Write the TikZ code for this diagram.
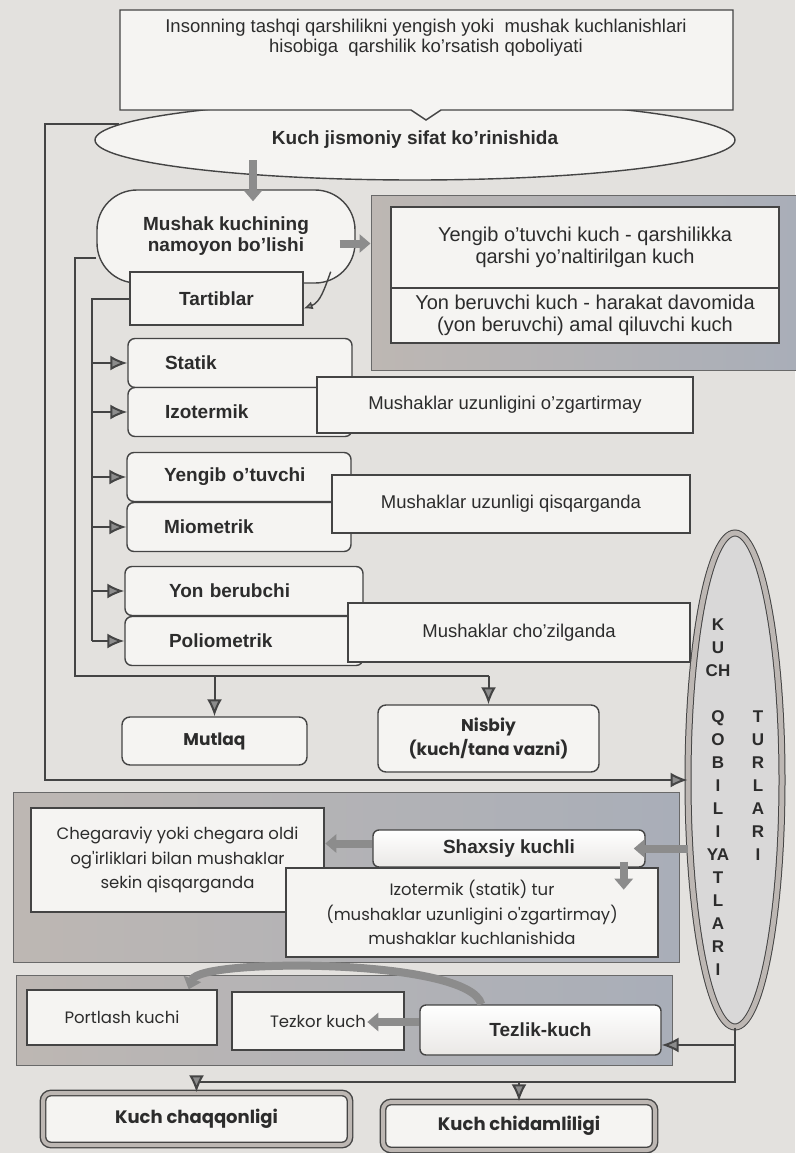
\documentclass[tikz,border=0pt]{standalone}
\usepackage{fontspec}
\setmainfont{Liberation Sans}
\newfontfamily\gothic{Poppins}
\usepackage{tikz}
\usetikzlibrary{arrows.meta}
\usetikzlibrary{shapes.geometric}
\definecolor{paper}{HTML}{E3E1DE}
\definecolor{boxfill}{HTML}{F5F4F2}
\definecolor{linecol}{HTML}{444444}
\definecolor{inkcol}{HTML}{2C2C2C}
\definecolor{arrowgray}{HTML}{8C8C8C}
\definecolor{bandA}{HTML}{BDB7B3}
\definecolor{bandB}{HTML}{A9AEB8}
\definecolor{turfill}{HTML}{D9D8D8}
\newcommand\kuchbold{\bfseries\fontsize{19}{21}\selectfont}
\newcommand\kuchplain{\fontsize{18.5}{22}\selectfont}
\newcommand\gothicmid{\gothic\fontsize{16.5}{24.5}\selectfont}
\newcommand\gothicbold{\gothic\bfseries\fontsize{17}{24}\selectfont}
\tikzset{>={Latex[length=12pt,width=10pt]}}
\tikzset{
  box/.style={draw=linecol, line width=1.4pt, fill=boxfill, text=inkcol, inner sep=0pt, align=center},
  modebox/.style={box, rounded corners=7pt, minimum width=224pt, minimum height=49pt, text width=150pt, inner xsep=37pt, align=left, font=\kuchbold},
  frame/.style={draw=linecol!80, line width=1pt, left color=bandA, right color=bandB, inner sep=0pt},
  endbox/.style={box, rounded corners=8pt, double=bandA, double distance=4pt, font=\gothic\bfseries\fontsize{18}{24}\selectfont},
  letters/.style={font=\bfseries\fontsize{17}{23}\selectfont, align=center, text=inkcol, inner sep=0pt},
  link/.style={draw=linecol, line width=2pt},
  feed/.style={link, -{Latex[length=17pt,width=15pt,fill=arrowgray]}},
  block/.style={draw=arrowgray, line width=8pt, -{Triangle[length=11pt,width=18pt]}},
}

\begin{document}
\begin{tikzpicture}[x=1pt,y=-1pt]
\useasboundingbox (0,0) rectangle (795,1153);
\fill[paper] (0,0) rectangle (795,1153);

% kuch jismoniy sifat
\node[box, ellipse, minimum width=640pt, minimum height=80pt, font=\kuchbold] (kuch) at (415,140) {Kuch jismoniy sifat ko'rinishida};
\draw[box] (120,10) -- (733,10) -- (733,110) -- (441,110) -- (426,120) -- (411,110) -- (120,110) -- cycle;
\node[font=\fontsize{18.5}{20}\selectfont, align=center, text=inkcol] (ask) at (426,38) {Insonning tashqi qarshilikni yengish yoki \ mushak kuchlanishlari\\hisobiga \ qarshilik ko'rsatish qoboliyati};

% mushak kuchi
\node[box, rounded corners=40pt, minimum width=258pt, minimum height=93pt, font=\kuchbold] (mushak) at (226,236.5) {Mushak kuchining\\namoyon bo'lishi};
\node[box, minimum width=173pt, minimum height=53pt, font=\kuchbold] (tartib) at (216.5,298.5) {Tartiblar};
\draw[link, line width=1.4pt, -{Latex[length=9pt,width=8pt,fill=arrowgray]}] ([xshift=-25pt,yshift=12pt]mushak.south east) to[out=-110,in=20] ([yshift=-10pt]tartib.east);

\node[frame, minimum width=426pt, minimum height=175pt] (kuchturi) at (584,282.5) {};
\node[box, minimum width=388pt, minimum height=81pt, font=\fontsize{20}{22}\selectfont] (yengkuch) at (585,247.5) {Yengib o'tuvchi kuch - qarshilikka\\qarshi yo'naltirilgan kuch};
\node[box, minimum width=388pt, minimum height=55pt, font=\fontsize{20}{22}\selectfont] (yonkuch) at (585,315.5) {Yon beruvchi kuch - harakat davomida\\(yon beruvchi) amal qiluvchi kuch};

% tartiblar
\node[modebox] (statik) at (240,363) {Statik};
\node[modebox] (izoterm) at (240,412) {Izotermik};
\node[modebox] (yengib) at (239,477) {Yengib o'tuvchi};
\node[modebox] (miomet) at (239,527) {Miometrik};
\node[modebox, minimum width=238pt] (yonber) at (244,591) {Yon berubchi};
\node[modebox, minimum width=238pt] (poliom) at (244,641) {Poliometrik};

\node[box, minimum width=376pt, minimum height=56pt, font=\kuchplain] (mush1) at (505,405) {Mushaklar uzunligini o'zgartirmay};
\node[box, minimum width=358pt, minimum height=58pt, font=\kuchplain] (mush2) at (511,504) {Mushaklar uzunligi qisqarganda};
\node[box, minimum width=342pt, minimum height=59pt, font=\kuchplain] (mush3) at (519,632.5) {Mushaklar cho'zilganda};

\node[box, rounded corners=8pt, minimum width=185pt, minimum height=48pt, font=\gothicbold] (mutlaq) at (214.5,741) {Mutlaq};
\node[box, rounded corners=8pt, minimum width=221pt, minimum height=67pt, font=\gothicbold] (nisbiy) at (488.5,738.5) {Nisbiy\\(kuch/tana vazni)};

% kuch qobiliyatlari turlari
\node[ellipse, draw=linecol, line width=1pt, double=bandA, double distance=5pt, fill=turfill, minimum width=94pt, minimum height=494pt, inner sep=0pt] (turlar) at (735,780) {};
\node[letters] (qobil) at (718,797) {K\\U\\CH\\[23pt]Q\\O\\B\\I\\L\\I\\YA\\T\\L\\A\\R\\I};
\node[letters] (turi) at (758,786) {T\\U\\R\\L\\A\\R\\I};

% chiziqlar
\coordinate (outerx) at (45,0);
\coordinate (midbus) at (75,676);
\coordinate (innx) at (92,0);
\coordinate (kdrop) at (253,160);
\draw[feed] (kuch.177) -| (turlar.west -| outerx) -- (turlar.west);
\draw[link] ([yshift=-21pt]mushak.west) -| (midbus) -- (midbus -| nisbiy.north);
\draw[feed] (midbus -| mutlaq.north) -- (mutlaq.north);
\draw[feed] (midbus -| nisbiy.north) -- (nisbiy.north);
\draw[link] (tartib.west) -| (innx |- poliom.west);
\foreach \m in {statik,izoterm,yengib,miomet,yonber,poliom}
  \draw[feed] (innx |- \m.west) -- (\m.west);
\draw[block] (kdrop) -- ([xshift=27pt,yshift=-12pt]mushak.north);
\draw[block] ([xshift=-16pt,yshift=-7pt]mushak.east) -- ([yshift=-7pt]mushak.east -| kuchturi.west);

% shaxsiy kuch
\node[frame, minimum width=666pt, minimum height=170pt] (shaxfrm) at (346,877) {};
\node[box, minimum width=293pt, minimum height=104pt, font=\gothicmid] (chegar) at (177.5,860) {Chegaraviy yoki chegara oldi\\og'irliklari bilan mushaklar\\sekin qisqarganda};
\node[box, rounded corners=6pt, minimum width=272pt, minimum height=37pt, font=\kuchbold, top color=white, bottom color=boxfill!80!bandA] (shax) at (509,848.5) {Shaxsiy kuchli};
\node[box, minimum width=372pt, minimum height=89pt, font=\gothicmid] (izostat) at (472,912.5) {Izotermik (statik) tur\\(mushaklar uzunligini o'zgartirmay)\\mushaklar kuchlanishida};
\draw[block] ([yshift=5pt]shax.west) -- ++(-47,0);
\draw[block] (turlar.west |- shax.east) -- ([xshift=-12pt]shax.east);
\draw[block] ([xshift=-22pt,yshift=6pt]shax.south east) -- ++(0,28);

% tezlik-kuch
\node[frame, minimum width=656pt, minimum height=90pt] (tezfrm) at (344,1020) {};
\node[box, minimum width=190pt, minimum height=55pt, font=\gothicmid] (portlash) at (122,1017.5) {Portlash kuchi};
\node[box, minimum width=172pt, minimum height=58pt, font=\gothicmid] (tezkor) at (318,1021) {Tezkor kuch};
\node[box, rounded corners=6pt, minimum width=241pt, minimum height=50pt, font=\kuchbold, top color=white, bottom color=boxfill!80!bandA] (tezlik) at (540.5,1030) {Tezlik-kuch};
\draw[block] ([yshift=8pt]tezlik.west) -- ++(-52,0);
\draw[block] ([xshift=62pt]tezlik.north west) .. controls (470,958) and (200,958) .. ([xshift=-29pt]portlash.north east);

\node[endbox, minimum width=307pt, minimum height=52pt] (chaq) at (196.5,1119) {Kuch chaqqonligi};
\node[endbox, minimum width=272pt, minimum height=48pt] (chid) at (519,1126) {Kuch chidamliligi};
\coordinate (botbus) at (0,1082);
\draw[link] (turlar.south) |- (botbus -| chaq.north);
\draw[feed] (chaq.north |- botbus) -- (chaq.north);
\draw[feed] (chid.north |- botbus) -- (chid.north);
\draw[feed] ([yshift=-15pt]tezlik.east -| turlar.south) -- ([yshift=-15pt]tezlik.east);
\end{tikzpicture}
\end{document}
